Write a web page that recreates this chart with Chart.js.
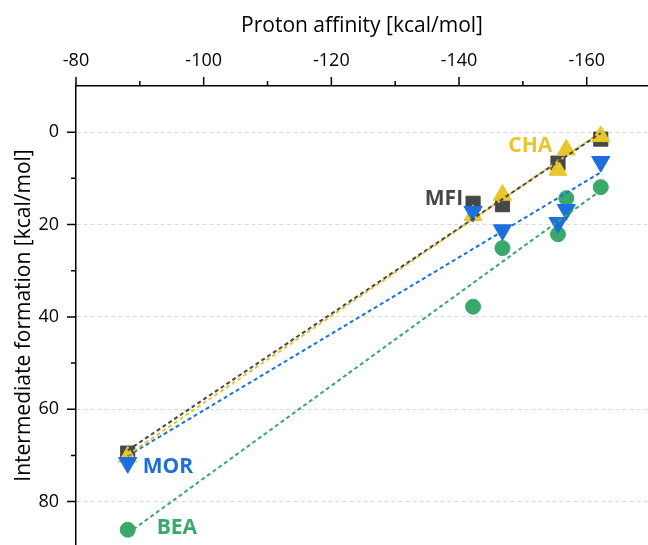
<!DOCTYPE html>
<html>
<head>
<meta charset="utf-8">
<script src="https://cdn.jsdelivr.net/npm/chart.js@4.4.0/dist/chart.umd.min.js"></script>
<style>
    html, body { margin: 0; padding: 0; background: #fff; overflow: hidden; }
    #wrap { width: 648px; height: 545px; position: relative; }
    #paChart { display: block; }
</style>
</head>
<body>
<div id="wrap"><canvas id="paChart"></canvas></div>
<script>
// proton affinity (kcal/mol) of each acid site, per framework
const paAll = [-88.1, -142.2, -146.8, -155.5, -156.8, -162.2];
const paMFI = [-88.1, -142.2, -146.8, -155.5, -162.2];

// intermediate formation energies (kcal/mol)
const eMFI = [69.5, 15.4, 15.7, 6.7, 1.5];
const eCHA = [70.3, 18.0, 13.6, 8.2, 3.8, 0.9];
const eMOR = [71.6, 17.2, 21.2, 19.6, 16.8, 6.4];
const eBEA = [86.1, 37.8, 25.1, 22.1, 14.3, 11.9];

// linear fit end points
const fitPA = [-88.1, -162.2];
const fitMFI = [68.9, 0.2];
const fitCHA = [69.9, 0.0];
const fitMOR = [70.1, 8.7];
const fitBEA = [86.9, 12.6];

// axis ticks
const xTicks = [-80, -100, -120, -140, -160];
const xMinor = [-90, -110, -130, -150];
const yTicks = [0, 20, 40, 60, 80];
const yMinor = [10, 30, 50, 70];

const C_MFI = '#474747';
const C_CHA = '#E8C72C';
const C_MOR = '#1D6FDC';
const C_BEA = '#38A96B';

const pts = (xs, ys) => ys.map((y, i) => ({ x: xs[i], y }));

function markers(label, xs, ys, color, style, radius, rotation, order) {
    return {
        label,
        data: pts(xs, ys),
        showLine: false,
        pointStyle: style,
        pointRadius: radius,
        pointHoverRadius: radius,
        pointRotation: rotation,
        pointBackgroundColor: color,
        pointBorderColor: color,
        pointBorderWidth: 1,
        order
    };
}

function fitLine(ys, color) {
    return {
        type: 'line',
        data: pts(fitPA, ys),
        borderColor: color,
        borderWidth: 2,
        borderDash: [4, 3],
        pointRadius: 0,
        fill: false,
        order: 0
    };
}

// series names written next to the markers
const seriesLabels = [
    { text: 'MFI', color: C_MFI, x: paMFI[1], y: eMFI[1], dx: -10, dy: -4, align: 'right' },
    { text: 'CHA', color: C_CHA, x: paAll[4], y: eCHA[4], dx: -14, dy: -4, align: 'right' },
    { text: 'MOR', color: C_MOR, x: paAll[0], y: eMOR[0], dx: 15, dy: 4, align: 'left' },
    { text: 'BEA', color: C_BEA, x: paAll[0], y: eBEA[0], dx: 29, dy: -2, align: 'left' }
];

const decorations = {
    id: 'decorations',
    afterDraw(chart) {
        const { ctx, scales: { x, y }, chartArea } = chart;
        ctx.save();
        // tick marks outside the plot
        ctx.strokeStyle = '#000';
        ctx.lineWidth = 1.5;
        ctx.beginPath();
        xTicks.forEach(v => { const p = x.getPixelForValue(v); ctx.moveTo(p, chartArea.top); ctx.lineTo(p, chartArea.top - 9); });
        xMinor.forEach(v => { const p = x.getPixelForValue(v); ctx.moveTo(p, chartArea.top); ctx.lineTo(p, chartArea.top - 5); });
        yTicks.forEach(v => { const p = y.getPixelForValue(v); ctx.moveTo(chartArea.left, p); ctx.lineTo(chartArea.left - 9, p); });
        yMinor.forEach(v => { const p = y.getPixelForValue(v); ctx.moveTo(chartArea.left, p); ctx.lineTo(chartArea.left - 5, p); });
        ctx.stroke();

        ctx.font = 'bold 21px "Open Sans", sans-serif';
        ctx.textBaseline = 'middle';
        seriesLabels.forEach(l => {
            ctx.fillStyle = l.color;
            ctx.textAlign = l.align;
            ctx.fillText(l.text, x.getPixelForValue(l.x) + l.dx, y.getPixelForValue(l.y) + l.dy);
        });
        ctx.restore();
    }
};

new Chart(document.getElementById('paChart'), {
    type: 'scatter',
    data: {
        datasets: [
            fitLine(fitMFI, C_MFI),
            fitLine(fitCHA, C_CHA),
            fitLine(fitMOR, C_MOR),
            fitLine(fitBEA, C_BEA),
            markers('MOR', paAll, eMOR, C_MOR, 'triangle', 10.5, 180, 1),
            markers('CHA', paAll, eCHA, C_CHA, 'triangle', 10.5, 0, 2),
            markers('MFI', paMFI, eMFI, C_MFI, 'rect', 10, 0, 3),
            markers('BEA', paAll, eBEA, C_BEA, 'circle', 7.5, 0, 4)
        ]
    },
    options: {
        responsive: true,
        maintainAspectRatio: false,
        animation: false,
        layout: { padding: 0, autoPadding: false },
        plugins: { legend: { display: false }, tooltip: { enabled: false } },
        scales: {
            x: {
                type: 'linear',
                position: 'top',
                reverse: true,
                min: -169.6,
                max: -80,
                afterBuildTicks: s => { s.ticks = xTicks.map(v => ({ value: v })); },
                afterFit: s => { s.height = 86; s.paddingLeft = 0; s.paddingRight = 0; },
                grid: { display: false, drawTicks: false },
                border: { display: true, color: '#000', width: 1.5 },
                ticks: {
                    padding: 14,
                    color: '#000',
                    font: { family: '"Open Sans", sans-serif', size: 18 },
                    maxRotation: 0
                },
                title: {
                    display: true,
                    text: 'Proton affinity [kcal/mol]',
                    color: '#000',
                    font: { family: '"Open Sans", sans-serif', size: 21 },
                    padding: { top: 13, bottom: 0 }
                }
            },
            y: {
                type: 'linear',
                reverse: true,
                min: -10,
                max: 89.4,
                afterBuildTicks: s => { s.ticks = yTicks.map(v => ({ value: v })); },
                afterFit: s => { s.width = 76; s.paddingTop = 0; s.paddingBottom = 0; },
                grid: { color: '#d9d9d9', lineWidth: 1, drawTicks: false },
                border: { display: true, color: '#000', width: 1.5, dash: [4, 3] },
                ticks: {
                    padding: 17,
                    color: '#000',
                    font: { family: '"Open Sans", sans-serif', size: 18 }
                },
                title: {
                    display: true,
                    text: 'Intermediate formation [kcal/mol]',
                    color: '#000',
                    font: { family: '"Open Sans", sans-serif', size: 21 },
                    padding: { top: 11, bottom: 0 }
                }
            }
        }
    },
    plugins: [decorations]
});
</script>
</body>
</html>
